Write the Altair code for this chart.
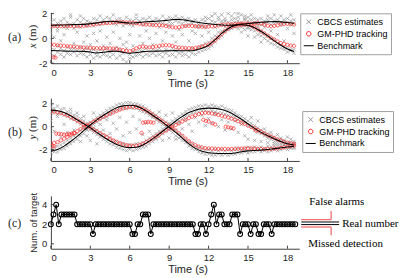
import altair as alt
import pandas as pd

SANS = "Liberation Sans"
SERIF = "Liberation Serif"
TXT = "#262626"
AXC = "#404040"
GRAY = "#959595"
RED = "#ff2020"
PINK = "#f07070"

SERIES = ["CBCS estimates", "GM-PHD tracking", "Benchmark"]
X_TICKS = [0, 3, 6, 9, 12, 15, 18]
T_BM = [0, 0.5, 1, 1.5, 2, 2.5, 3, 3.5, 4, 4.5, 5, 5.5, 6, 6.5, 7, 7.5, 8, 8.5, 9, 9.5,
        10, 10.5, 11, 11.5, 12, 12.5, 13, 13.5, 14, 14.5, 15, 15.5, 16, 16.5, 17, 17.5, 18, 18.5]
T_Q = [i * 0.25 for i in range(75)]
C_T = [round(i * 0.2, 1) for i in range(94)]

# ---------------- panel (a): x (m) ----------------
A_BM1 = [1.06, 1.07, 1.08, 1.10, 1.12, 1.13, 1.18, 1.25, 1.33, 1.38, 1.35, 1.28, 1.24, 1.26, 1.32, 1.36,
         1.38, 1.42, 1.48, 1.53, 1.50, 1.42, 1.32, 1.24, 1.18, 1.12, 1.08, 1.06, 1.08, 1.10, 1.05, 0.85,
         0.55, 0.20, -0.20, -0.55, -0.85, -1.05]
A_BM2 = [-0.98, -1.00, -1.02, -1.04, -1.04, -1.05, -1.10, -1.18, -1.12, -1.05, -1.04, -1.12, -1.20, -1.15,
         -1.07, -1.04, -1.03, -1.02, -1.00, -0.99, -1.00, -1.00, -0.95, -0.80, -0.55, -0.10, 0.40, 0.80,
         1.05, 1.15, 1.20, 1.25, 1.30, 1.33, 1.35, 1.33, 1.28, 1.22]
A_R1 = [0.98, 1.00, 1.00, 0.99, 1.00, 1.01, 1.00, 0.99, 1.00, 1.01, 1.02,
        1.04, 1.08, 1.12, 1.16, 1.20, 1.22, 1.24, 1.25,
        1.28, 1.30, 1.31, 1.30, 1.28, 1.27, 1.25, 1.22,
        1.18, 1.14, 1.12, 1.10, 1.08, 1.07, 1.06, 1.05, 1.00, 0.95, 0.90, 0.88,
        0.90, 0.95, 1.00, 1.02, 1.00, 0.98, 0.96, 0.95, 0.94, 0.95,
        0.98, 1.00, 1.04, 1.08, 1.10, 1.12, 1.14, 1.15, 1.16, 1.18, 1.20, 1.18,
        1.05, 0.90, 0.72, 0.55, 0.40, 0.22, 0.05, -0.10, -0.25, -0.38, -0.45, -0.52, -0.58, -0.60]
A_R2 = [-0.50, -0.52, -0.55, -0.58, -0.60, -0.63, -0.65, -0.67, -0.70, -0.72, -0.74,
        -0.75, -0.76, -0.78, -0.79, -0.80, -0.80, -0.80, -0.81,
        -0.82, -0.85, -0.90, -0.95, -1.00, -1.03, -0.95, -0.80,
        -0.68, -0.66, -0.70, -0.72, -0.70, -0.65, -0.60, -0.56, -0.55, -0.56, -0.60, -0.70,
        -0.74, -0.76, -0.78, -0.79, -0.80, -0.78, -0.72, -0.65, -0.58, -0.52,
        -0.35, -0.15, 0.10, 0.35, 0.58, 0.78, 0.92, 1.00, 1.05, 1.08, 1.10, 1.12,
        1.18, 1.22, 1.24, 1.20, 1.10, 1.02, 0.98, 1.00, 1.05, 1.12, 1.16, 1.18, 1.15, 1.12]
A_RX_T = [0.2, 0.35, 13.7, 13.85, 14.0, 14.15, 14.3]
A_RX_V = [-1.52, -1.55, 2.28, 2.30, 2.32, 2.30, 2.28]
A_CB = [
    (1.3, 0.9, -0.7, -1.2, 0.4), (1.5, 1.0, -0.9, -1.4, 0.1), (1.2, 0.8, -0.6, -1.1, 0.6),
    (1.4, 1.1, -0.8, -1.3, -0.2), (1.6, 0.9, -1.0, -1.5, 0.3), (1.3, 1.0, -0.7, -1.2, 0.8),
    (1.7, 1.1, -0.9, -1.3, 1.9), (1.2, 0.8, -0.8, -1.1, -0.4), (1.5, 1.0, -1.0, -1.4, 0.5),
    (1.3, 0.9, -0.7, -1.2, 1.8), (1.6, 1.1, -0.9, -1.3, -0.3), (1.4, 1.0, -0.8, -1.5, 0.2),
    (1.3, 1.2, -1.0, -1.3, -0.5), (1.6, 1.0, -0.9, -1.6, 0.4), (1.5, 1.2, -1.1, -1.4, -0.2),
    (1.8, 1.1, -0.9, -1.5, 0.6), (1.5, 1.3, -1.0, -1.3, -0.6), (1.7, 1.2, -0.8, -1.4, 0.1),
    (1.6, 1.3, -1.1, -1.5, -0.4), (1.9, 1.2, -0.9, -1.3, 0.5), (1.5, 1.1, -1.0, -1.6, -0.7),
    (1.6, 1.3, -0.9, -1.4, 0.0), (1.4, 1.0, -1.2, -1.7, -0.5), (1.7, 1.2, -0.8, -1.9, -0.3),
    (1.5, 1.1, -1.3, -1.6, 0.3), (1.4, 1.0, -1.0, -1.5, -0.6), (1.6, 1.2, -1.1, -1.4, 1.9),
    (1.3, 1.4, -0.9, -1.3, 0.2), (1.6, 1.1, -1.0, -1.5, -0.4), (1.5, 1.2, -0.8, -1.3, 0.6),
    (1.7, 1.3, -1.1, -1.4, 0.0), (1.4, 1.1, -0.9, -1.2, -0.5), (1.6, 1.2, -1.0, -1.4, 0.4),
    (1.5, 1.3, -0.8, -1.3, 0.9), (1.8, 1.2, -1.1, -1.5, -0.2), (1.5, 1.1, -0.9, -1.2, 0.5),
    (1.7, 1.3, -1.0, -1.4, 1.0), (1.6, 1.2, -0.8, -1.3, 0.2), (1.8, 1.4, -1.0, -1.5, -0.3),
    (1.6, 1.3, -0.9, -1.2, 0.7), (1.7, 1.2, -1.1, -1.4, 0.3), (1.5, 1.4, -0.9, -1.3, 1.0),
    (1.6, 1.1, -1.0, -1.5, -0.2), (1.4, 1.2, -0.8, -1.2, 0.6), (1.5, 1.0, -0.9, -1.3, 0.4),
    (1.3, 1.1, -0.7, -1.1, 0.9), (1.5, 1.0, -0.6, -1.0, 0.2), (1.4, 0.9, -0.4, -0.9, 1.7),
    (1.6, 1.1, -0.3, -0.8, 0.5), (1.4, 1.8, 0.0, -0.6, 2.2), (1.3, 2.0, 0.2, -0.3, 0.9),
    (1.5, 1.7, 0.5, 0.0, 2.4), (1.2, 1.9, 0.6, 0.2, 1.4), (1.4, 2.2, 0.9, 0.5, 1.6),
    (1.3, 2.0, 1.0, 0.7, 2.5), (1.5, 1.8, 1.2, 0.8, 2.3), (1.3, 2.1, 1.0, 0.9, 1.6),
    (1.4, 1.7, 1.2, 0.8, 2.0), (1.3, 1.9, 1.1, 0.9, 0.5), (1.5, 1.6, 1.0, 0.7, 1.8),
    (1.4, 1.7, 0.9, 0.8, 0.2), (1.5, 1.2, 0.7, 0.9, 1.9), (1.3, 1.6, 0.6, 0.9, 0.1),
    (1.5, 1.2, 0.3, 0.7, 1.0), (1.6, 1.1, 0.2, 0.6, -0.3), (1.4, 1.2, 0.0, 0.4, 0.9),
    (1.5, 1.3, -0.2, 0.2, 1.8), (1.6, 1.1, -0.4, 0.0, 0.6), (1.4, 1.2, -0.5, -0.1, 1.9),
    (1.5, 1.3, -0.7, -0.4, 0.3), (1.3, 1.1, -0.8, -0.5, 1.8), (1.5, 1.2, -0.9, -0.7, -0.2),
    (1.6, 1.3, -1.1, -0.8, 0.8), (1.4, 1.1, -1.0, -0.9, 1.9), (1.5, 1.2, -1.2, -0.9, 0.4),
]

# ---------------- panel (b): y (m) ----------------
B_BM1 = [1.45, 1.40, 1.25, 0.95, 0.60, 0.25, -0.10, -0.50, -0.90, -1.25, -1.55, -1.75, -1.83, -1.80,
         -1.60, -1.25, -0.85, -0.40, 0.05, 0.50, 0.90, 1.25, 1.45, 1.58, 1.62, 1.60, 1.50, 1.30, 1.00,
         0.65, 0.25, -0.15, -0.50, -0.80, -1.05, -1.30, -1.50, -1.60]
B_BM2 = [-2.15, -2.00, -1.70, -1.30, -0.85, -0.35, 0.15, 0.60, 1.00, 1.35, 1.65, 1.82, 1.88, 1.80,
         1.55, 1.20, 0.80, 0.40, -0.05, -0.50, -1.00, -1.50, -1.90, -2.15, -2.28, -2.33, -2.35, -2.35,
         -2.30, -2.20, -2.12, -2.08, -2.05, -2.00, -1.92, -1.85, -1.78, -1.72]
B_R1 = [1.30, 1.30, 1.25, 1.20, 1.10, 1.00, 0.85, 0.70, 0.55, 0.40, 0.20,
        0.05, -0.10, -0.25, -0.42, -0.58, -0.75, -0.90, -1.05,
        -1.20, -1.32, -1.45, -1.55, -1.62, -1.66, -1.68, -1.66,
        -1.60, -1.50, -1.35, -1.20, -1.02, -0.85, -0.68, -0.50, -0.32, -0.15, 0.00, 0.15,
        0.30, 0.45, 0.60, 0.75, 0.88, 1.00, 1.10, 1.18, 1.22, 1.20,
        1.15, 1.10, 1.02, 0.95, 0.88, 0.80, 0.70, 0.60, 0.48, 0.36, 0.25, 0.10,
        -0.02, -0.15, -0.30, -0.45, -0.60, -0.75, -0.88, -1.00, -1.12, -1.22, -1.32, -1.40, -1.45, -1.50]
B_R2 = [-1.45, -1.42, -1.35, -1.20, -1.05, -0.90, -0.72, -0.55, -0.40, -0.22, -0.05,
        0.10, 0.25, 0.42, 0.58, 0.72, 0.88, 1.00, 1.12,
        1.25, 1.38, 1.50, 1.60, 1.68, 1.72, 1.74, 1.72,
        1.65, 1.55, 1.42, 1.25, 1.05, 0.85, 0.65, 0.45, 0.25, 0.05, -0.15, -0.35,
        -0.58, -0.80, -1.05, -1.28, -1.48, -1.62, -1.74, -1.82, -1.88, -1.90,
        -1.92, -1.93, -1.94, -1.95, -1.95, -1.96, -1.95, -1.94, -1.93, -1.92, -1.90, -1.90,
        -1.90, -1.92, -1.94, -1.95, -1.96, -1.95, -1.94, -1.92, -1.90, -1.86, -1.80, -1.75, -1.70, -1.66]
B_RX_T = [0.1, 0.25, 0.4, 0.6, 0.8, 1.0, 1.2, 1.4, 1.6, 1.8, 6.9, 7.0, 7.2, 7.4, 7.6, 7.8,
          11.6, 11.8, 12.0, 12.3, 12.5, 13.3, 13.5, 13.7, 13.9, 15.6]
B_RX_V = [-1.70, -1.72, -0.60, -0.62, -0.65, -0.70, -0.68, -0.65, -0.60, -0.58, -0.55, 0.35, 0.40,
          0.42, 0.38, 0.35, 0.60, 0.50, 0.45, 0.30, 0.20, 0.00, -0.05, -0.10, -0.15, -0.35]
B_CB = [
    (1.7, 1.2, -1.9, -2.3, 0.5), (1.6, 1.3, -1.8, -2.2, -0.4), (1.8, 1.1, -1.7, -2.2, 0.9),
    (1.5, 1.2, -1.6, -2.0, -0.9), (1.6, 1.0, -1.4, -1.9, 0.2), (1.3, 0.9, -1.2, -1.7, -0.5),
    (1.2, 0.7, -1.0, -1.5, 1.5), (1.0, 0.6, -0.8, -1.3, -0.3), (0.9, 0.4, -0.6, -1.1, 1.2),
    (0.7, 0.2, -0.3, -0.8, -1.3), (0.5, 0.0, -0.1, -0.6, 0.9), (0.3, -0.2, 0.1, -0.3, -0.8),
    (0.2, -0.3, 0.4, 0.0, -1.2), (-0.1, -0.5, 0.6, 0.2, 1.2), (-0.3, -0.7, 0.8, 0.4, -1.5),
    (-0.5, -0.9, 1.0, 0.6, 0.2), (-0.7, -1.1, 1.2, 0.8, -0.3), (-0.8, -1.3, 1.4, 0.9, 0.6),
    (-1.0, -1.5, 1.6, 1.1, -0.6), (-1.2, -1.6, 1.7, 1.3, 0.3), (-1.3, -1.8, 1.9, 1.4, -0.2),
    (-1.4, -1.9, 2.0, 1.5, 0.8), (-1.5, -2.0, 2.0, 1.6, -0.8), (-1.6, -2.1, 2.1, 1.6, 0.4),
    (-1.6, -2.0, 2.1, 1.7, -0.5), (-1.6, -2.1, 2.0, 1.6, 0.9), (-1.5, -2.0, 2.0, 1.6, -0.2),
    (-1.5, -1.9, 1.9, 1.4, 0.6), (-1.4, -1.8, 1.8, 1.3, -0.7), (-1.2, -1.7, 1.6, 1.2, 0.3),
    (-1.0, -1.5, 1.4, 1.0, -0.4), (-0.8, -1.3, 1.2, 0.8, 0.9), (-0.6, -1.1, 1.0, 0.6, -1.0),
    (-0.4, -0.9, 0.8, 0.4, 1.3), (-0.2, -0.6, 0.6, 0.2, -1.2), (0.0, -0.4, 0.4, 0.0, 1.0),
    (0.3, -0.2, 0.2, -0.3, -1.0), (0.5, 0.1, -0.1, -0.5, 1.2), (0.7, 0.3, -0.3, -0.8, -1.1),
    (0.9, 0.5, -0.6, -1.0, 0.3), (1.1, 0.7, -0.8, -1.2, -0.2), (1.3, 0.9, -1.1, -1.4, 0.6),
    (1.5, 1.0, -1.3, -1.7, 0.2), (1.6, 1.2, -1.5, -1.9, -0.4), (1.7, 1.3, -1.7, -2.0, 0.8),
    (1.8, 1.3, -1.8, -2.2, 0.4), (1.8, 1.4, -1.9, -2.3, 1.0), (1.9, 1.4, -2.0, -2.4, 0.1),
    (1.8, 1.3, -2.0, -2.4, 0.7), (1.9, 1.4, -2.1, -2.5, 0.3), (1.8, 1.3, -2.0, -2.5, 1.1),
    (1.7, 1.2, -2.1, -2.4, 0.0), (1.8, 1.2, -2.0, -2.5, 0.6), (1.6, 1.1, -2.1, -2.4, -0.3),
    (1.5, 1.0, -2.0, -2.5, 0.4), (1.4, 0.9, -2.1, -2.4, -0.2), (1.2, 0.8, -2.0, -2.4, 0.5),
    (1.0, 0.6, -1.9, -2.3, -0.5), (0.9, 0.4, -2.0, -2.3, 0.2), (0.7, 0.3, -1.9, -2.2, -0.8),
    (0.5, 0.1, -1.8, -2.3, -1.1), (0.3, -0.1, -1.9, -2.2, 0.8), (0.1, -0.3, -1.8, -2.2, -1.2),
    (-0.1, -0.5, -1.9, -2.1, 0.5), (-0.3, -0.6, -1.8, -2.2, -1.3), (-0.5, -0.8, -1.9, -2.1, -0.2),
    (-0.6, -1.0, -1.7, -2.2, -1.4), (-0.8, -1.1, -1.8, -2.1, -0.5), (-0.9, -1.3, -1.7, -2.0, -1.5),
    (-1.1, -1.4, -1.6, -2.1, -0.7), (-1.2, -1.5, -1.7, -2.0, -1.0), (-1.3, -1.6, -1.6, -1.9, -1.2),
    (-1.4, -1.7, -1.5, -2.0, -0.9), (-1.4, -1.8, -1.6, -1.9, -1.1), (-1.5, -1.8, -1.5, -1.9, -1.3),
]

# ---------------- panel (c): number of targets ----------------
C_N = [2, 3, 4, 2, 3, 3, 3, 3, 3, 3,
       2, 2, 2, 2, 2, 2,
       1,
       2, 2, 2, 2, 2, 2, 2, 2, 2, 2, 2, 2, 2, 2,
       1, 1, 2, 2, 3, 3, 3, 1,
       2, 2, 2, 2, 2, 2, 2, 2, 2, 2, 2, 2, 2, 2, 2, 2,
       1, 1, 2, 2, 1, 2, 3, 4, 2, 3, 3, 2, 2, 2, 3, 3, 3, 1, 2, 2, 2, 1, 2, 2, 1, 1, 2, 2, 2, 1,
       2, 2, 2, 2, 2, 2, 2, 2, 2]

X_PATH = "M-0.45,-0.45L0.45,0.45M-0.45,0.45L0.45,-0.45"
O_PATH = "M0.45,0A0.45,0.45,0,1,1,-0.45,0A0.45,0.45,0,1,1,0.45,0Z"

W = 249
ONE = pd.DataFrame({"k": [0]})


def text_at(text, x, y, font=SERIF, size=11, angle=0, style="normal", align="left", color=TXT):
    return alt.Chart(ONE).mark_text(
        text=text, font=font, fontSize=size, angle=angle, fontStyle=style,
        align=align, baseline="middle", color=color,
    ).encode(x=alt.value(x), y=alt.value(y))


def seg(x1, x2, y1, y2, color, w):
    return alt.Chart(ONE).mark_rule(color=color, strokeWidth=w).encode(
        x=alt.value(x1), x2=alt.value(x2), y=alt.value(y1), y2=alt.value(y2))


def x_axis():
    return alt.Axis(values=X_TICKS, title="Time (s)", ticks=False, tickSize=0, grid=False,
                    domainColor=AXC, domainWidth=1, labelFont=SANS, labelFontSize=9.5,
                    labelColor=TXT, labelPadding=4, titleFont=SANS, titleFontSize=11,
                    titleFontWeight="normal", titleColor=TXT, titlePadding=1, titleX=137,
                    titleAlign="center")


def y_axis(ticks, title=None):
    kw = dict(values=ticks, ticks=False, tickSize=0, grid=False, domainColor=AXC, domainWidth=1,
              labelFont=SANS, labelFontSize=9.5, labelColor=TXT, labelPadding=4,
              labelExpr="'' + datum.value")
    if title is None:
        return alt.Axis(title=None, **kw)
    return alt.Axis(title=title, titleFont=SANS, titleFontSize=9.5, titleFontWeight="normal",
                    titleColor=TXT, titlePadding=3, **kw)


def inner_ticks(xs, ys, xax, yax, yticks, height):
    xt = alt.Chart(pd.DataFrame({"t": X_TICKS})).mark_rule(color=AXC, strokeWidth=1).encode(
        x=alt.X("t:Q", scale=xs, axis=xax), y=alt.value(height), y2=alt.value(height - 3))
    yt = alt.Chart(pd.DataFrame({"v": yticks})).mark_rule(color=AXC, strokeWidth=1).encode(
        y=alt.Y("v:Q", scale=ys, axis=yax), x=alt.value(0), x2=alt.value(3))
    return [xt, yt]


def traj_panel(cb, r1, r2, rxt, rxv, b1, b2, ydom, height, leg_x, leg_y, tag, tag_y, var, var_y):
    rows = []
    for t, vals in zip(T_Q, cb):
        for v in vals:
            rows.append((t, v, SERIES[0]))
    for t, v in zip(T_Q, r1):
        rows.append((t, v, SERIES[1]))
    for t, v in zip(T_Q, r2):
        rows.append((t, v, SERIES[1]))
    for t, v in zip(rxt, rxv):
        rows.append((t, v, SERIES[1]))
    pts = pd.DataFrame(rows, columns=["t", "v", "s"])
    bm = pd.DataFrame({"t": T_BM + T_BM, "v": b1 + b2,
                       "k": ["1"] * len(T_BM) + ["2"] * len(T_BM)})
    xs = alt.Scale(domain=[0, 18.9], nice=False, zero=False)
    ys = alt.Scale(domain=ydom, nice=False, zero=False)
    yticks = [-2, 0, 2]
    xax = x_axis()
    yax = y_axis(yticks)
    leg = alt.Legend(title=None, orient="none", legendX=leg_x, legendY=leg_y, direction="vertical",
                     strokeColor="#a0a0a0", fillColor="white", padding=3, rowPadding=1,
                     symbolSize=100, symbolStrokeWidth=1, labelFont=SANS, labelFontSize=9,
                     labelColor="black", labelOffset=3, cornerRadius=0)
    points = alt.Chart(pts).mark_point(filled=False, size=55, strokeWidth=0.7, opacity=1,
                                       clip=True).encode(
        x=alt.X("t:Q", scale=xs, axis=xax),
        y=alt.Y("v:Q", scale=ys, axis=yax),
        color=alt.Color("s:N", scale=alt.Scale(domain=SERIES, range=[GRAY, RED, "black"]),
                        legend=leg),
        shape=alt.Shape("s:N", scale=alt.Scale(domain=SERIES, range=[X_PATH, O_PATH, "stroke"]),
                        legend=leg),
    )
    lines = alt.Chart(bm).mark_line(color="black", strokeWidth=1.1, interpolate="monotone",
                                    clip=True).encode(
        x=alt.X("t:Q", scale=xs, axis=xax), y=alt.Y("v:Q", scale=ys, axis=yax), detail="k:N")
    layers = [points, lines] + inner_ticks(xs, ys, xax, yax, yticks, height) + [
        text_at(tag, -43, tag_y, size=12),
        text_at(var, -18, var_y + 9, size=11, angle=270, style="italic", align="center"),
        text_at("(m)", -18, var_y - 4, size=11, angle=270, align="center"),
    ]
    return alt.layer(*layers).properties(width=W, height=height)


pa = traj_panel(A_CB, A_R1, A_R2, A_RX_T, A_RX_V, A_BM1, A_BM2, [-2, 2.1], 51,
                250, 1, "(a)", 24.5, "x", 24.5)
pb = traj_panel(B_CB, B_R1, B_R2, B_RX_T, B_RX_V, B_BM1, B_BM2, [-3, 2.5], 63,
                252, 13, "(b)", 34, "y", 30)

# panel (c)
HC = 53
cdf = pd.DataFrame({"t": C_T, "n": C_N})
xs_c = alt.Scale(domain=[0, 18.9], nice=False, zero=False)
ys_c = alt.Scale(domain=[-0.5, 4.9], nice=False, zero=False)
xax_c = x_axis()
yax_c = y_axis([0, 2, 4], "Num. of target")
c_line = alt.Chart(cdf).mark_line(color="black", strokeWidth=1).encode(
    x=alt.X("t:Q", scale=xs_c, axis=xax_c),
    y=alt.Y("n:Q", scale=ys_c, axis=yax_c))
c_pts = alt.Chart(cdf).mark_point(shape="circle", filled=False, color="black", size=24,
                                  strokeWidth=1.1, opacity=1).encode(
    x=alt.X("t:Q", scale=xs_c, axis=xax_c), y=alt.Y("n:Q", scale=ys_c, axis=yax_c))
c_layers = [c_line, c_pts] + inner_ticks(xs_c, ys_c, xax_c, yax_c, [0, 2, 4], HC) + [
    text_at("(c)", -43, 27.5, size=12),
    seg(251, 289, 26.2, 26.2, "black", 1),
    seg(251, 289, 28.8, 28.8, "black", 1),
    seg(251, 281, 23.8, 23.8, PINK, 1.3),
    seg(281, 281, 15.2, 23.8, PINK, 1.3),
    seg(251, 281, 31.2, 31.2, PINK, 1.3),
    seg(281, 281, 31.2, 39.5, PINK, 1.3),
    text_at("False alarms", 259, 5.8, size=11, color="black"),
    text_at("Real number", 292, 27.8, size=11, color="black"),
    text_at("Missed detection", 258, 47.8, size=11, color="black"),
]
pc = alt.layer(*c_layers).properties(width=W, height=HC)

chart = alt.vconcat(pa, pb, pc, spacing=35, bounds="flush").resolve_scale(
    color="independent", shape="independent"
).resolve_legend(color="independent", shape="independent").configure_view(
    stroke=None
).properties(padding=0)

chart.save("out.html", embed_options={"renderer": "svg", "actions": False})
